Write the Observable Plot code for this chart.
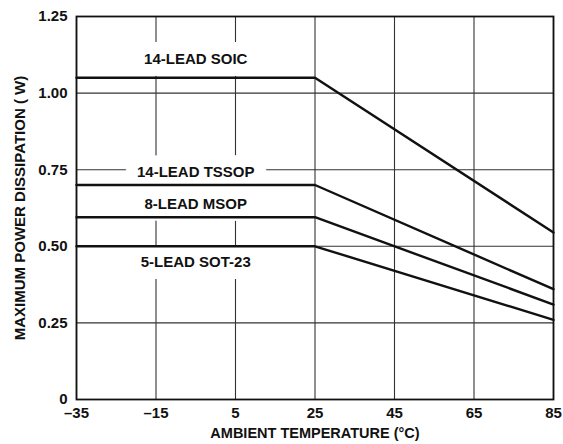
<!DOCTYPE html>
<html><head><meta charset="utf-8">
<script src="https://cdn.jsdelivr.net/npm/d3@7"></script>
<script src="https://cdn.jsdelivr.net/npm/@observablehq/plot@0.6"></script>
<style>body{margin:0;background:#fff}</style>
</head><body><div id="c"></div>
<script>
// Data
const temps = [-35, 25, 85];
const soic  = [1.05, 1.05, 0.545];
const tssop = [0.70, 0.70, 0.36];
const msop  = [0.595, 0.595, 0.31];
const sot23 = [0.50, 0.50, 0.26];
const seriesNames = ["14-LEAD SOIC", "14-LEAD TSSOP", "8-LEAD MSOP", "5-LEAD SOT-23"];
const labelX = [-5, -5, -5, -5];
const labelY = [1.11, 0.741, 0.636, 0.447];
const xTicks = [-35, -15, 5, 25, 45, 65, 85];
const yTicks = [0, 0.25, 0.5, 0.75, 1.0, 1.25];
const yTickLabels = ["0", "0.25", "0.50", "0.75", "1.00", "1.25"];

const allSeries = [soic, tssop, msop, sot23];
const lineData = allSeries.flatMap((vals, i) =>
  vals.map((v, j) => ({series: seriesNames[i], t: temps[j], p: v})));
const labelData = seriesNames.map((s, i) => ({s, x: labelX[i], y: labelY[i]}));

const font = "'Liberation Sans', Arial, Helvetica, sans-serif";

const chart = Plot.plot({
  width: 563,
  height: 444,
  marginLeft: 76,
  marginRight: 10,
  marginTop: 16,
  marginBottom: 45,
  style: {fontFamily: font, fontSize: "15px", fontWeight: "bold", color: "#111", background: "#fff"},
  x: {domain: [-35, 85]},
  y: {domain: [0, 1.25]},
  marks: [
    Plot.gridX(xTicks, {stroke: "#333", strokeOpacity: 1, strokeWidth: 1.1}),
    Plot.gridY(yTicks, {stroke: "#333", strokeOpacity: 1, strokeWidth: 1.1}),
    Plot.text(labelData, {x: "x", y: "y", text: "s", fill: "#111", stroke: "white", strokeWidth: 24,
      strokeLinejoin: "round", paintOrder: "stroke", fontSize: 15, fontWeight: "bold", fontFamily: font}),
    Plot.line(lineData, {x: "t", y: "p", z: "series", stroke: "#111", strokeWidth: 2.4}),
    Plot.frame({stroke: "#111", strokeWidth: 1.8}),
    Plot.axisX(xTicks, {tickSize: 0, tickPadding: 8, label: null, fontSize: 15,
      tickFormat: d => (d < 0 ? "\u2013" + Math.abs(d) : String(d))}),
    Plot.axisY(yTicks, {tickSize: 0, tickPadding: 9, label: null, fontSize: 15,
      tickFormat: d => yTickLabels[yTicks.indexOf(d)]}),
    Plot.text(["AMBIENT TEMPERATURE (°C)"], {frameAnchor: "bottom", dy: 34, lineAnchor: "middle",
      textAnchor: "middle", text: d => d, fontSize: 14.5, fontWeight: "bold"}),
    Plot.text(["MAXIMUM POWER DISSIPATION ( W)"], {frameAnchor: "left", dx: -56, rotate: -90,
      lineAnchor: "middle", textAnchor: "middle", text: d => d, fontSize: 15, fontWeight: "bold"})
  ]
});
document.getElementById("c").appendChild(chart);
</script>
</body></html>
